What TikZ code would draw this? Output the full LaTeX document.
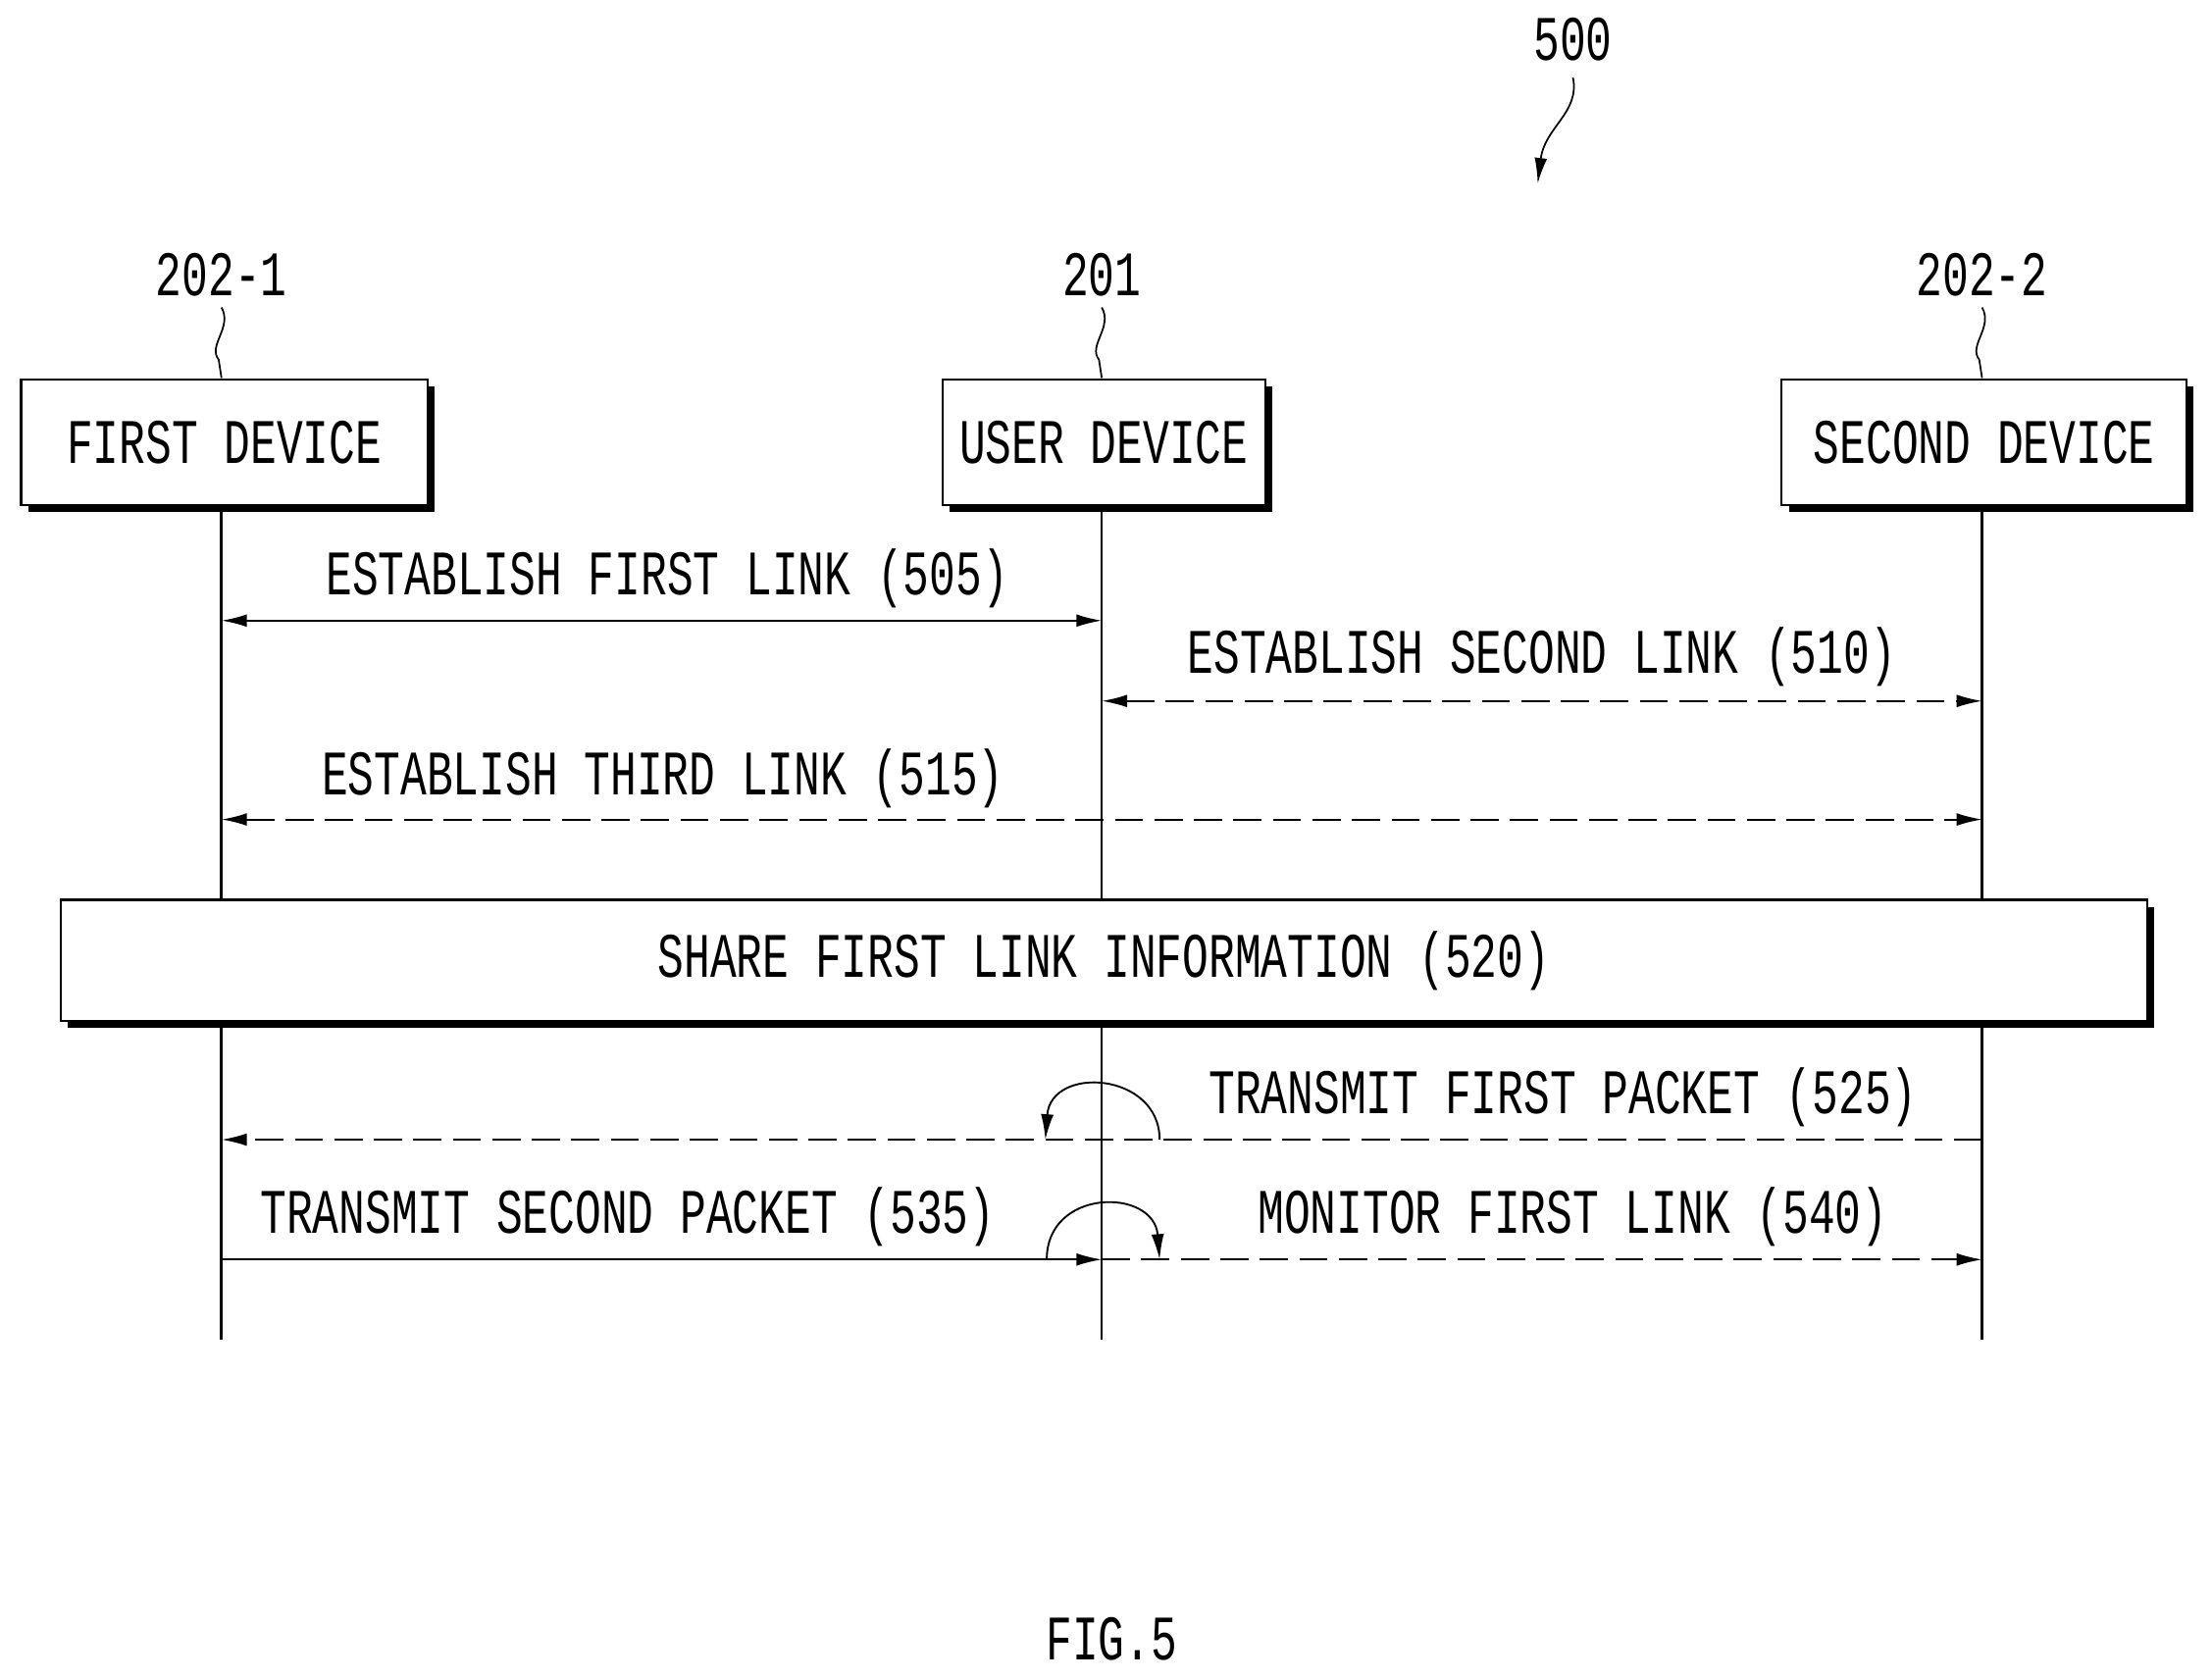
\documentclass[tikz,border=0pt]{standalone}
\usepackage{fontspec}
\setmainfont{Liberation Mono}
\usetikzlibrary{arrows.meta}
\newcommand{\tx}[1]{\scalebox{1}[1.45]{#1}}
\begin{document}
\begin{tikzpicture}[x=1pt,y=-1pt,
  every node/.style={font=\fontsize{31}{31}\selectfont, inner sep=0},
  box/.style={draw,line width=1.5pt,fill=white},
  life/.style={line width=1.8pt},
  msg/.style={line width=1.3pt},
  dsh/.style={msg,dash pattern=on 20pt off 8pt},
  tip/.style={-{Latex[length=18pt,width=9pt]}},
  tips/.style={{Latex[length=18pt,width=9pt]}-{Latex[length=18pt,width=9pt]}}]
\useasboundingbox (0,0) rectangle (1568,1191);
% lifelines
\coordinate (a1) at (157,358); \coordinate (a2) at (157,950);
\coordinate (b1) at (781,358); \coordinate (b2) at (781,950);
\coordinate (c1) at (1405,358); \coordinate (c2) at (1405,950);
\draw[life] (a1)--(a2); \draw[life] (b1)--(b2); \draw[life] (c1)--(c2);
% boxes with shadow
\foreach \n/\xa/\xb/\ya/\yb/\t in {fd/15/303/269/358/FIRST DEVICE, ud/668/897/269/358/USER DEVICE, sd/1263/1550/269/358/SECOND DEVICE, sh/43/1522/638/724/SHARE FIRST LINK INFORMATION (520)}{
  \fill (\xa+5,\ya+5) rectangle (\xb+5,\yb+5);
  \draw[box] (\xa,\ya) rectangle (\xb,\yb);
  \node (\n) at ({(\xa+\xb)/2},{(\ya+\yb)/2}) {\tx{\t}};
}
% labels
\node (l1) at (157,195) {\tx{202-1}};
\node (l2) at (781,195) {\tx{201}};
\node (l3) at (1405,195) {\tx{202-2}};
\foreach \x in {157,781,1405}{
  \draw[line width=1.2pt] (\x,218) .. controls (\x+8,232) and (\x-10,245) .. (\x-2,255) -- (\x,268);
}
\node (n500) at (1115,28) {\tx{500}};
\draw[line width=1.2pt,tip] (1115,55) .. controls (1120,80) and (1095,90) .. (1090,130);
% messages
\draw[msg,tips] (157,440) -- (781,440);
\node at (473,410) {\tx{ESTABLISH FIRST LINK (505)}};
\draw[dsh,tips] (781,497) -- (1405,497);
\node at (1093,466) {\tx{ESTABLISH SECOND LINK (510)}};
\draw[dsh,tips] (157,581) -- (1405,581);
\node at (470,552) {\tx{ESTABLISH THIRD LINK (515)}};
\draw[dsh,tip] (1405,808) -- (157,808);
\node at (1108,778) {\tx{TRANSMIT FIRST PACKET (525)}};
\draw[msg,tip] (822,808) .. controls (822,760) and (745,755) .. (741,808);
\draw[msg,tip] (157,893) -- (781,893);
\node at (445,863) {\tx{TRANSMIT SECOND PACKET (535)}};
\draw[msg,tip] (742,893) .. controls (742,842) and (818,842) .. (822,893);
\draw[dsh,tip] (781,893) -- (1405,893);
\node at (1115,863) {\tx{MONITOR FIRST LINK (540)}};
\node at (788,1162) {\tx{FIG.5}};
\end{tikzpicture}
\end{document}
